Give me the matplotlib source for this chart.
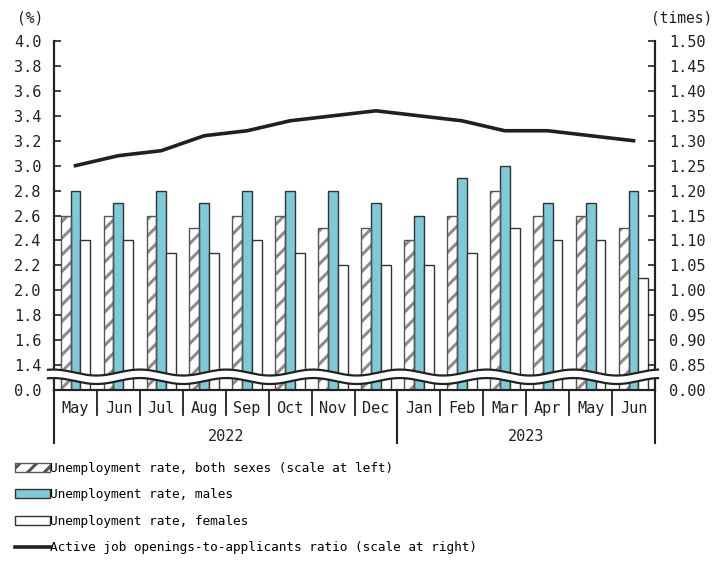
import matplotlib
matplotlib.use("Agg")
import matplotlib.pyplot as plt
import numpy as np
from matplotlib.patches import Patch, Polygon
from matplotlib.lines import Line2D
import matplotlib.transforms as mtransforms

plt.rcParams['font.family'] = ['DejaVu Sans Mono']
plt.rcParams['hatch.color'] = '#8c8c8c'
plt.rcParams['hatch.linewidth'] = 2.2

# data
months = ['May', 'Jun', 'Jul', 'Aug', 'Sep', 'Oct', 'Nov', 'Dec',
          'Jan', 'Feb', 'Mar', 'Apr', 'May', 'Jun']
years = ['2022', '2023']
year_start = [0, 8]
year_end = [7, 13]
both = [2.6, 2.6, 2.6, 2.5, 2.6, 2.6, 2.5, 2.5, 2.4, 2.6, 2.8, 2.6, 2.6, 2.5]
males = [2.8, 2.7, 2.8, 2.7, 2.8, 2.8, 2.8, 2.7, 2.6, 2.9, 3.0, 2.7, 2.7, 2.8]
females = [2.4, 2.4, 2.3, 2.3, 2.4, 2.3, 2.2, 2.2, 2.2, 2.3, 2.5, 2.4, 2.4, 2.1]
ratio = [1.25, 1.27, 1.28, 1.31, 1.32, 1.34, 1.35, 1.36, 1.35, 1.34, 1.32, 1.32, 1.31, 1.30]

left_ticks = [1.2, 1.4, 1.6, 1.8, 2.0, 2.2, 2.4, 2.6, 2.8, 3.0, 3.2, 3.4, 3.6, 3.8, 4.0]
left_labels = ['0.0'] + ['%.1f' % v for v in left_ticks[1:]]
right_ticks = [0.80 + 0.05 * i for i in range(15)]
right_labels = ['0.00'] + ['%.2f' % v for v in right_ticks[1:]]

blue = '#7FCAD9'
edge = '#333333'

fig = plt.figure(figsize=(7.2, 5.61), dpi=100)
ax = fig.add_axes([54 / 720, 1 - 390 / 561, 601 / 720, 349 / 561])
ax2 = ax.twinx()

x = np.arange(len(months))
w = 0.23
base = left_ticks[0]
ax.bar(x - w, np.array(both) - base, w, bottom=base, color='white',
       edgecolor='#8c8c8c', hatch='//', linewidth=0, zorder=1)
ax.bar(x - w, np.array(both) - base, w, bottom=base, fill=False,
       edgecolor='#555555', linewidth=1.0, zorder=1.1)
ax.bar(x, np.array(males) - base, w, bottom=base, color=blue,
       edgecolor=edge, linewidth=1.0, zorder=1)
ax.bar(x + w, np.array(females) - base, w, bottom=base, color='white',
       edgecolor=edge, linewidth=1.0, zorder=1)

ax.set_xlim(-0.5, 13.5)
ax.set_ylim(1.2, 4.0)
ax.set_yticks(left_ticks)
ax.set_yticklabels(left_labels)
ax.set_xticks([])
ax.tick_params(axis='y', direction='in', length=5, width=1.2, pad=9,
               labelsize=11, colors='#222222')

ax2.plot(x, ratio, color='#231F20', linewidth=2.6, zorder=5)
ax2.set_ylim(0.80, 1.50)
ax2.set_yticks(right_ticks)
ax2.set_yticklabels(right_labels)
ax2.tick_params(axis='y', direction='in', length=5, width=1.2, pad=10,
                labelsize=11, colors='#222222')

for a in (ax, ax2):
    a.spines['top'].set_visible(False)
    for s in ('left', 'right', 'bottom'):
        a.spines[s].set_linewidth(1.5)
        a.spines[s].set_color('#222222')

# wavy axis break
xs = np.linspace(-0.64, 13.57, 600)
wave = 0.024 * np.cos(2 * np.pi * (xs + 0.52) / 2.02)
top = 1.34 + wave
bot = 1.272 + wave
poly = Polygon(np.column_stack([np.r_[xs, xs[::-1]], np.r_[top, bot[::-1]]]),
               closed=True, facecolor='white', edgecolor='none',
               transform=ax.transData, clip_on=False, zorder=6)
ax2.add_patch(poly)
ax2.plot(xs, top, color='#222222', linewidth=1.6, transform=ax.transData,
         clip_on=False, zorder=7)
ax2.plot(xs, bot, color='#222222', linewidth=1.6, transform=ax.transData,
         clip_on=False, zorder=7)

# category axis
trans = mtransforms.blended_transform_factory(ax.transData, ax.transAxes)
for i, m in enumerate(months):
    ax.text(i, -0.052, m, transform=trans, ha='center', va='center',
            fontsize=11, color='#222222')
for b in np.arange(0.5, 13.5, 1.0):
    ax.plot([b, b], [0, -0.072], transform=trans, color='#222222',
            linewidth=1.3, clip_on=False)
for b in [-0.5, 7.5, 13.5]:
    ax.plot([b, b], [0, -0.152], transform=trans, color='#222222',
            linewidth=1.5, clip_on=False)
for yl, s, e in zip(years, year_start, year_end):
    ax.text((s + e) / 2, -0.133, yl, transform=trans, ha='center',
            va='center', fontsize=11, color='#222222')

fig.text(30 / 720, 1 - 18 / 561, '(%)', ha='center', va='center',
         fontsize=10.5, color='#222222')
fig.text(682 / 720, 1 - 18 / 561, '(times)', ha='center', va='center',
         fontsize=10.5, color='#222222')

handles = [
    Patch(facecolor='white', edgecolor='#555555', hatch='//', linewidth=1.0),
    Patch(facecolor=blue, edgecolor=edge, linewidth=1.0),
    Patch(facecolor='white', edgecolor=edge, linewidth=1.0),
    Line2D([], [], color='#231F20', linewidth=2.6),
]
labels = [
    'Unemployment rate, both sexes (scale at left)',
    'Unemployment rate, males',
    'Unemployment rate, females',
    'Active job openings-to-applicants ratio (scale at right)',
]
fig.legend(handles, labels, loc='upper left',
           bbox_to_anchor=(15 / 720, 1 - 462 / 561), frameon=False,
           fontsize=9.2, handlelength=2.7, handleheight=0.7,
           handletextpad=0.05, labelspacing=1.05, borderpad=0,
           borderaxespad=0)

fig.savefig('out.png', dpi=100)
